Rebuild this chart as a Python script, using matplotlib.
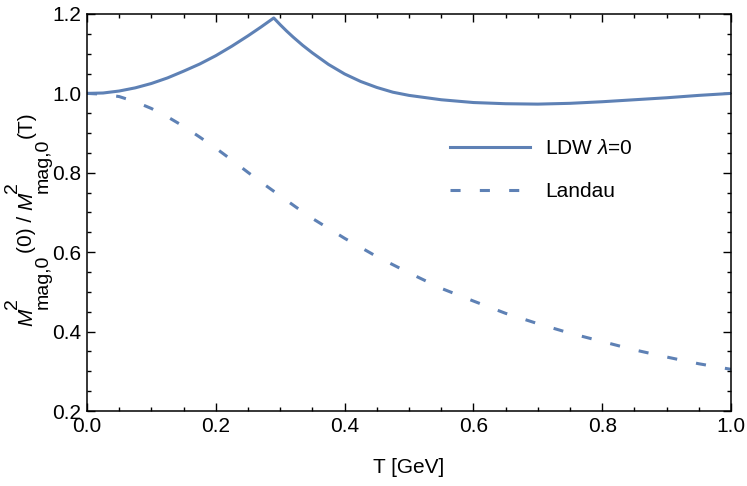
import matplotlib
matplotlib.use("Agg")
import matplotlib.pyplot as plt
from matplotlib.ticker import MultipleLocator, FormatStrFormatter

plt.rcParams['font.family'] = ['Liberation Sans', 'DejaVu Sans']
plt.rcParams['mathtext.fontset'] = 'custom'
plt.rcParams['mathtext.rm'] = 'Liberation Sans'
plt.rcParams['mathtext.it'] = 'Liberation Sans:italic'
plt.rcParams['mathtext.bf'] = 'Liberation Sans:bold'

# LDW lambda=0 (solid)
T_ldw = [0.0, 0.025, 0.05, 0.075, 0.1, 0.125, 0.15, 0.175, 0.2, 0.225, 0.25, 0.27, 0.29,
         0.3, 0.31, 0.32, 0.335, 0.35, 0.375, 0.4, 0.425, 0.45, 0.475, 0.5,
         0.55, 0.6, 0.65, 0.7, 0.75, 0.8, 0.85, 0.9, 0.95, 1.0]
v_ldw = [1.0, 1.001, 1.006, 1.014, 1.025, 1.039, 1.056, 1.074, 1.095, 1.119, 1.145, 1.167, 1.19,
         1.173, 1.157, 1.142, 1.121, 1.102, 1.073, 1.049, 1.030, 1.015, 1.003, 0.995,
         0.984, 0.977, 0.974, 0.973, 0.975, 0.979, 0.984, 0.989, 0.995, 1.0]

# Landau (dashed)
T_lan = [0.0, 0.025, 0.05, 0.075, 0.1, 0.125, 0.15, 0.175, 0.2, 0.225, 0.25, 0.275, 0.3, 0.325,
         0.35, 0.4, 0.45, 0.5, 0.55, 0.6, 0.65, 0.7, 0.75, 0.8, 0.85, 0.9, 0.95, 1.0]
v_lan = [1.0, 0.998, 0.992, 0.979, 0.962, 0.941, 0.917, 0.890, 0.862, 0.832, 0.801, 0.771, 0.742, 0.713,
         0.685, 0.635, 0.589, 0.548, 0.509, 0.477, 0.446, 0.420, 0.396, 0.375, 0.354, 0.336, 0.319, 0.305]

color = '#5E81B5'
fs = 15
W, H = 747, 486

fig = plt.figure(figsize=(W/100, H/100), dpi=100)
ax = fig.add_axes([87/W, 1 - 411/H, (731-87)/W, (411-14)/H])

ax.plot(T_ldw, v_ldw, color=color, lw=2.2, label=r'LDW $\lambda$=0')
ax.plot(T_lan, v_lan, color=color, lw=2.2, dashes=(3.3, 6.3), label='Landau')

ax.set_xlim(0, 1)
ax.set_ylim(0.2, 1.2)
ax.xaxis.set_major_locator(MultipleLocator(0.2))
ax.xaxis.set_minor_locator(MultipleLocator(0.05))
ax.yaxis.set_major_locator(MultipleLocator(0.2))
ax.yaxis.set_minor_locator(MultipleLocator(0.05))
ax.xaxis.set_major_formatter(FormatStrFormatter('%.1f'))
ax.yaxis.set_major_formatter(FormatStrFormatter('%.1f'))

ax.tick_params(which='both', direction='in', top=True, right=True, width=1.0,
               labelsize=fs, color='black')
ax.tick_params(which='major', length=5.5, pad=4)
ax.tick_params(which='minor', length=3)
for s in ax.spines.values():
    s.set_linewidth(1.1)

ax.set_xlabel('T [GeV]', fontsize=fs, labelpad=16)

leg = ax.legend(loc='center left', bbox_to_anchor=(450/W, 1 - 170/H),
                bbox_transform=fig.transFigure, frameon=False, fontsize=fs,
                handlelength=3.86, handletextpad=0.7, labelspacing=1.15,
                borderpad=0, borderaxespad=0)

# y label built from rotated pieces (main text, superscripts, subscripts)
renderer = fig.canvas.get_renderer()
fs_s = 14
x_main, x_sup, x_sub = 32, 17, 48

def piece(s, ypix, xpix, size, style='normal'):
    t = fig.text(xpix/W, 1 - ypix/H, s, rotation=90, rotation_mode='anchor',
                 ha='left', va='baseline', fontsize=size, fontstyle=style)
    return t.get_window_extent(renderer).height

y = 326
y -= piece('M', y, x_main, fs, 'italic')
l2 = piece('2', y, x_sup, fs_s)
l3 = piece('mag,0', y, x_sub, fs_s)
y -= max(l2, l3) + 1
y -= piece('(0) / ', y, x_main, fs)
y -= piece('M', y, x_main, fs, 'italic')
l2 = piece('2', y, x_sup, fs_s)
l3 = piece('mag,0', y, x_sub, fs_s)
y -= max(l2, l3) + 1
piece('(T)', y, x_main, fs)

fig.savefig('out.png', dpi=100)
